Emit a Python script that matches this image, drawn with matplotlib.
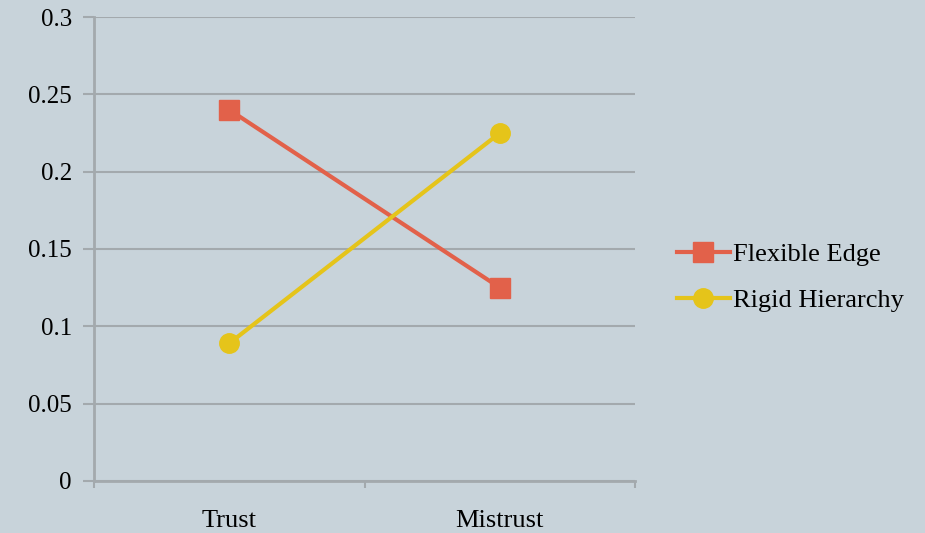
import numpy as np
import matplotlib.pyplot as plt

categories = ["Trust", "Mistrust"]
flexible_edge = [0.24, 0.125]
rigid_hierarchy = [0.089, 0.225]
yticks = [0, 0.05, 0.1, 0.15, 0.2, 0.25, 0.3]
ytick_labels = ["0", "0.05", "0.1", "0.15", "0.2", "0.25", "0.3"]

bg = "#c8d3da"
grid_c = "#a3a9ad"
plt.rcParams['font.family'] = ['Liberation Serif', 'DejaVu Serif']

fig = plt.figure(figsize=(9.25, 5.33), dpi=100, facecolor=bg)
ax = fig.add_axes([0.1016, 0.0976, 0.585, 0.8705], facecolor=bg)

x = np.arange(len(categories))
ax.plot(x, flexible_edge, color="#e2614a", lw=3, marker="s", ms=14,
        label="Flexible Edge")
ax.plot(x, rigid_hierarchy, color="#e5c41a", lw=3, marker="o", ms=14,
        label="Rigid Hierarchy")

ax.set_xlim(-0.5, 1.5)
ax.set_ylim(0, 0.3)
ax.set_yticks(yticks)
ax.set_yticklabels(ytick_labels)
ax.set_xticks([-0.5, 0.5, 1.5])
ax.set_xticklabels([])
ax.set_xticks(x, minor=True)
ax.set_xticklabels(categories, minor=True)
ax.tick_params(axis="x", which="minor", length=0, pad=21, labelsize=19)
ax.tick_params(axis="x", which="major", length=5, color=grid_c, width=1.5)
ax.tick_params(axis="y", length=8, color=grid_c, width=1.5, labelsize=18, pad=8)
ax.yaxis.grid(True, color=grid_c, lw=1.5)
ax.set_axisbelow(True)
for s in ["top", "right"]:
    ax.spines[s].set_visible(False)
for s in ["left", "bottom"]:
    ax.spines[s].set_color(grid_c)
    ax.spines[s].set_linewidth(2)

leg = fig.legend(loc="center left", bbox_to_anchor=(0.732, 0.48), frameon=False,
                 fontsize=19, handlelength=2.0, handletextpad=0.1,
                 labelspacing=0.85, borderaxespad=0, borderpad=0)

fig.savefig("out.png", dpi=100, facecolor=bg)
